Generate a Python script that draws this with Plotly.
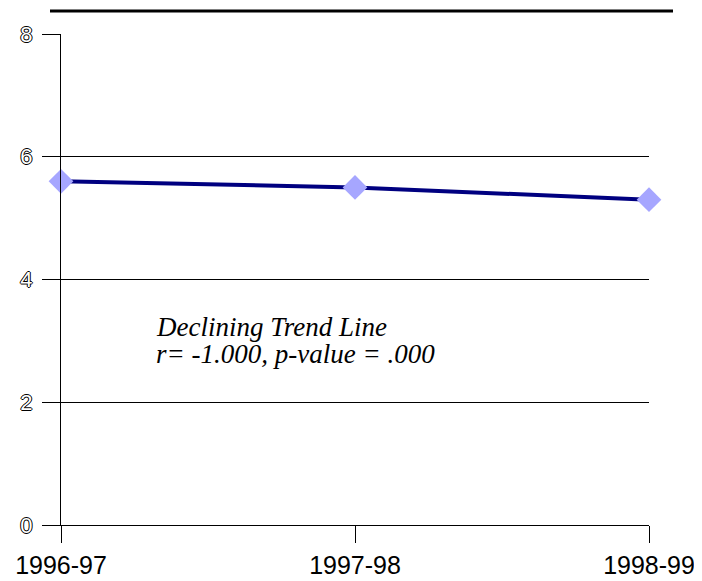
import plotly.graph_objects as go

categories = ["1996-97", "1997-98", "1998-99"]
values = [5.6, 5.5, 5.3]
y_ticks = [0, 2, 4, 6, 8]
note_line1 = "Declining Trend Line"
note_line2 = "r= -1.000, p-value = .000"

xpos = list(range(len(categories)))

fig = go.Figure()
fig.add_trace(go.Scatter(
    x=xpos, y=values, mode="lines+markers",
    line=dict(color="#000080", width=4),
    marker=dict(symbol="diamond", size=19, color="#a6a6ff", line=dict(width=0)),
    cliponaxis=False, showlegend=False, hoverinfo="skip",
))

outline = "1px 0 0 #000, -1px 0 0 #000, 0 1px 0 #000, 0 -1px 0 #000"

# page body has an 8px default margin, so the figure is sized to fit the window
fig.update_layout(
    width=694, height=573,
    margin=dict(l=53, r=53, t=26, b=56, autoexpand=False),
    paper_bgcolor="white", plot_bgcolor="white",
    xaxis=dict(
        range=[0, len(categories) - 1], tickvals=xpos, ticktext=categories,
        showgrid=False, zeroline=False, showline=True, linecolor="black", linewidth=1,
        ticks="outside", ticklen=17, tickcolor="black", tickwidth=1,
        tickfont=dict(family="Liberation Sans, Arial", size=25, color="black"),
        ticklabelstandoff=1, automargin=False,
    ),
    yaxis=dict(
        range=[0, 8], tickvals=y_ticks,
        showgrid=True, gridcolor="black", gridwidth=1, zeroline=False,
        showline=True, linecolor="black", linewidth=1,
        ticks="outside", ticklen=18, tickcolor="black", tickwidth=1,
        tickfont=dict(family="Liberation Sans, Arial", size=22, color="white", shadow=outline),
        ticklabelstandoff=5, automargin=False,
    ),
    font=dict(family="Liberation Sans, Arial"),
)

ax = (154 - 61) / 588
fig.add_annotation(x=ax, xref="paper", y=(525 - 327) / 491, yref="paper",
                   text=note_line1, showarrow=False, xanchor="left", yanchor="middle",
                   font=dict(family="Liberation Serif, Times New Roman", size=27, color="black", style="italic"))
fig.add_annotation(x=ax, xref="paper", y=(525 - 354) / 491, yref="paper",
                   text=note_line2, showarrow=False, xanchor="left", yanchor="middle",
                   font=dict(family="Liberation Serif, Times New Roman", size=27, color="black", style="italic"))

# top rule and right border
fig.add_shape(type="line", xref="paper", yref="paper",
              x0=(50 - 61) / 588, x1=(673 - 61) / 588, y0=1 + 23 / 491, y1=1 + 23 / 491,
              line=dict(color="black", width=3))
fig.add_shape(type="line", xref="paper", yref="paper",
              x0=(692 - 53) / 588, x1=(692 - 53) / 588, y0=-60 / 491, y1=1 + 40 / 491,
              line=dict(color="black", width=2))

fig.write_html("out.html")
